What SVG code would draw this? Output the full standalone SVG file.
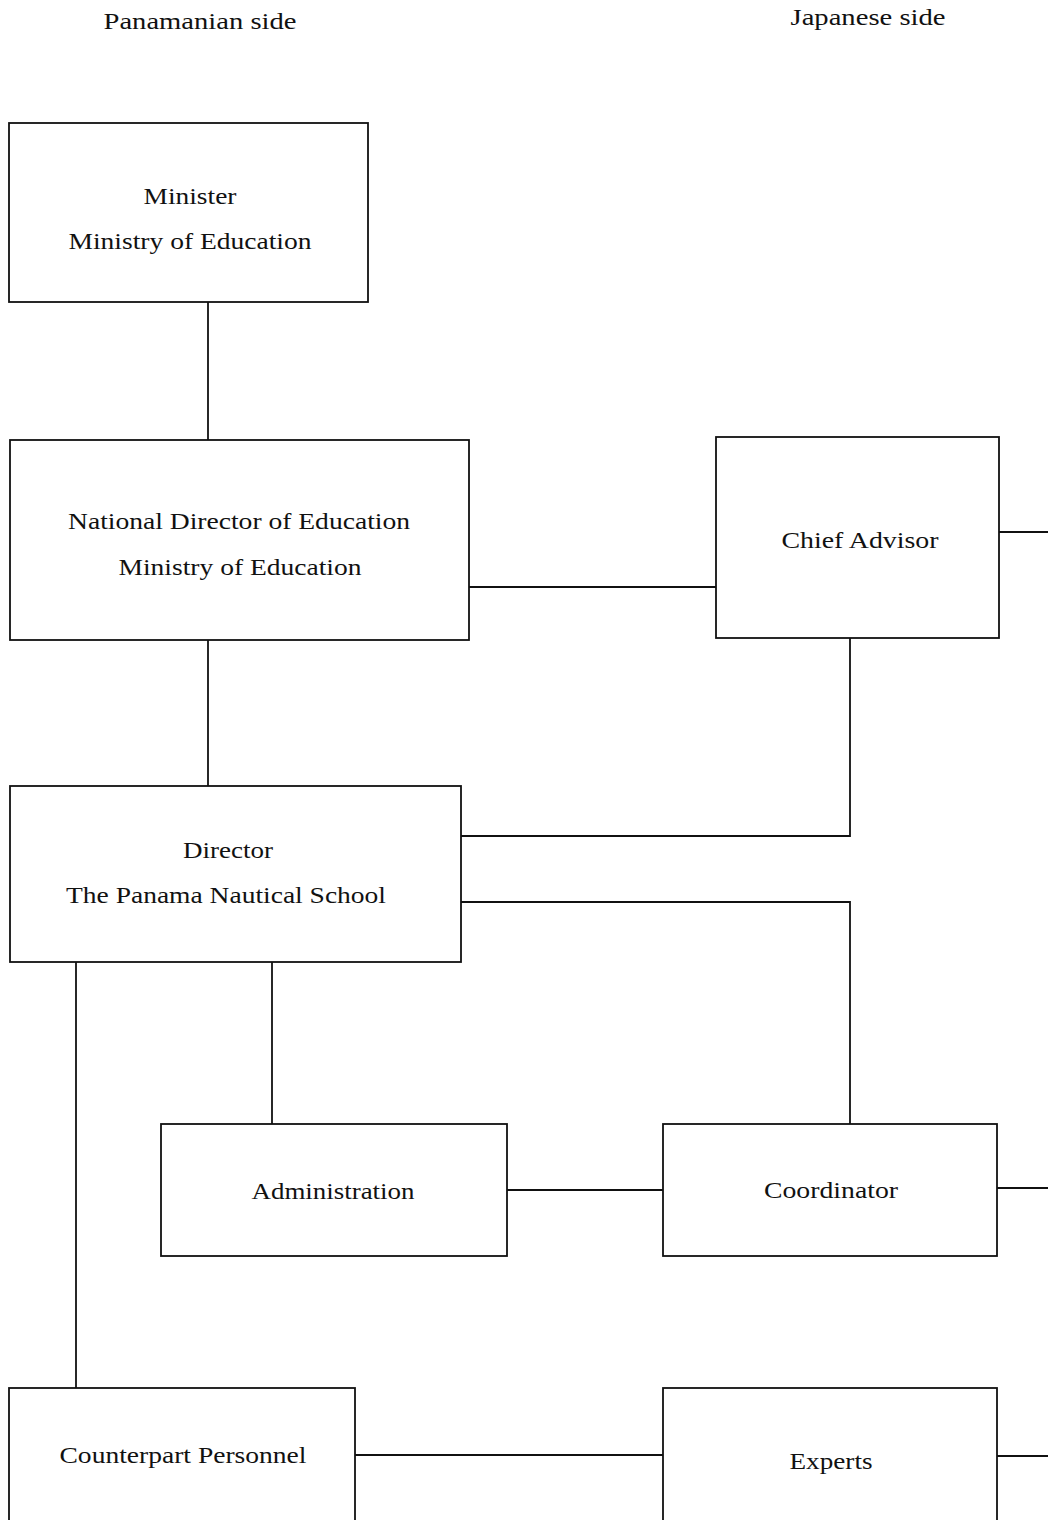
<svg xmlns="http://www.w3.org/2000/svg" width="1048" height="1520" viewBox="0 0 1048 1520">
<style>
.box{fill:none;stroke:#111;stroke-width:1.8}
.ln{fill:none;stroke:#111;stroke-width:1.8}
text{font-family:"Liberation Serif","Times New Roman",serif;font-size:24px;fill:#111;text-anchor:middle}
</style>
<rect x="0" y="0" width="1048" height="1520" fill="#fff"/>
<g id="headers">
<text x="200" y="29" textLength="193" lengthAdjust="spacingAndGlyphs">Panamanian side</text>
<text x="868" y="25" textLength="155" lengthAdjust="spacingAndGlyphs">Japanese side</text>
</g>
<g id="connectors">
<path class="ln" d="M208 302V440"/>
<path class="ln" d="M469 587H716"/>
<path class="ln" d="M999 532H1048"/>
<path class="ln" d="M208 640V786"/>
<path class="ln" d="M850 638V836H461"/>
<path class="ln" d="M461 902H850V1124"/>
<path class="ln" d="M272 962V1124"/>
<path class="ln" d="M76 962V1388"/>
<path class="ln" d="M507 1190H663"/>
<path class="ln" d="M997 1188H1048"/>
<path class="ln" d="M355 1455H663"/>
<path class="ln" d="M997 1456H1048"/>
</g>
<g id="minister">
<rect class="box" x="9" y="123" width="359" height="179"/>
<text x="190" y="204" textLength="93" lengthAdjust="spacingAndGlyphs">Minister</text>
<text x="190" y="249" textLength="243" lengthAdjust="spacingAndGlyphs">Ministry of Education</text>
</g>
<g id="national-director">
<rect class="box" x="10" y="440" width="459" height="200"/>
<text x="239" y="529" textLength="342" lengthAdjust="spacingAndGlyphs">National Director of Education</text>
<text x="240" y="575" textLength="243" lengthAdjust="spacingAndGlyphs">Ministry of Education</text>
</g>
<g id="chief-advisor">
<rect class="box" x="716" y="437" width="283" height="201"/>
<text x="860" y="548" textLength="157" lengthAdjust="spacingAndGlyphs">Chief Advisor</text>
</g>
<g id="director">
<rect class="box" x="10" y="786" width="451" height="176"/>
<text x="228" y="858" textLength="90" lengthAdjust="spacingAndGlyphs">Director</text>
<text x="226" y="903" textLength="320" lengthAdjust="spacingAndGlyphs">The Panama Nautical School</text>
</g>
<g id="administration">
<rect class="box" x="161" y="1124" width="346" height="132"/>
<text x="333" y="1199" textLength="163" lengthAdjust="spacingAndGlyphs">Administration</text>
</g>
<g id="coordinator">
<rect class="box" x="663" y="1124" width="334" height="132"/>
<text x="831" y="1198" textLength="134" lengthAdjust="spacingAndGlyphs">Coordinator</text>
</g>
<g id="counterpart">
<rect class="box" x="9" y="1388" width="346" height="140"/>
<text x="183" y="1463" textLength="247" lengthAdjust="spacingAndGlyphs">Counterpart Personnel</text>
</g>
<g id="experts">
<rect class="box" x="663" y="1388" width="334" height="140"/>
<text x="831" y="1469" textLength="83" lengthAdjust="spacingAndGlyphs">Experts</text>
</g>
</svg>
